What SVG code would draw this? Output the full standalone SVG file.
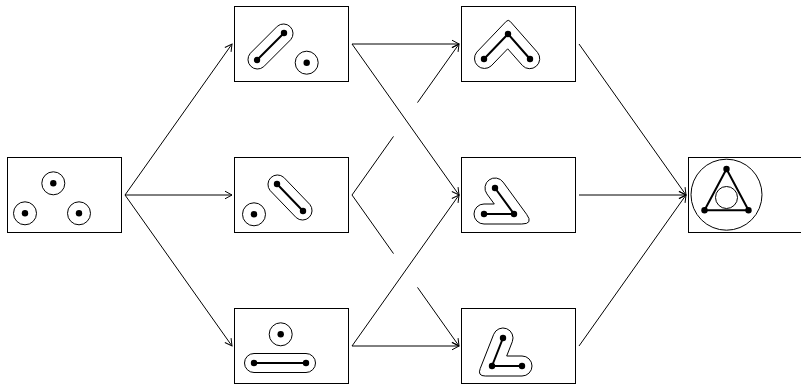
<svg xmlns="http://www.w3.org/2000/svg" width="801" height="385" viewBox="0 0 801 385">
<style>
.box{fill:#fff;stroke:#000;stroke-width:1}
.ring{fill:none;stroke:#000;stroke-width:1}
.hull{fill:none;stroke:#000;stroke-width:1;stroke-linejoin:round}
.dot{fill:#000;stroke:none}
.edge{stroke:#000;stroke-width:2;fill:none;stroke-linecap:round}
.conn{stroke:#000;stroke-width:1;fill:none}
.arr{marker-end:url(#ah)}
</style>
<defs>
<marker id="ah" markerUnits="userSpaceOnUse" markerWidth="12" markerHeight="12" viewBox="-10 -6 12 12" refX="0" refY="0" orient="auto">
<path d="M-7,-3.8 L0,0 L-7,3.8" fill="none" stroke="#000" stroke-width="1"/>
</marker>
</defs>
<rect width="801" height="385" fill="#fff"/>

<g id="connectors">
<line class="conn arr" x1="125" y1="195" x2="232" y2="44"/>
<line class="conn arr" x1="125" y1="195" x2="232" y2="195"/>
<line class="conn arr" x1="125" y1="195" x2="232" y2="346"/>
<line class="conn arr" x1="352" y1="44" x2="459" y2="44"/>
<line class="conn arr" x1="352" y1="44" x2="459" y2="195"/>
<line class="conn" x1="352" y1="195" x2="393.5" y2="136.4"/>
<line class="conn arr" x1="417.5" y1="102.6" x2="459" y2="44"/>
<line class="conn" x1="352" y1="195" x2="393.5" y2="253.6"/>
<line class="conn arr" x1="417.5" y1="287.4" x2="459" y2="346"/>
<line class="conn arr" x1="352" y1="346" x2="459" y2="195"/>
<line class="conn arr" x1="352" y1="346" x2="459" y2="346"/>
<line class="conn arr" x1="579" y1="44" x2="686" y2="195"/>
<line class="conn arr" x1="579" y1="195" x2="686" y2="195"/>
<line class="conn arr" x1="579" y1="346" x2="686" y2="195"/>
</g>

<g id="node-start">
<rect class="box" x="7.5" y="157.5" width="114" height="75"/>
<circle class="ring" cx="53.3" cy="183.3" r="11.5"/><circle class="dot" cx="53.3" cy="183.3" r="3.2"/>
<circle class="ring" cx="25" cy="213.3" r="11.5"/><circle class="dot" cx="25" cy="213.3" r="3.2"/>
<circle class="ring" cx="79" cy="213.3" r="11.5"/><circle class="dot" cx="79" cy="213.3" r="3.2"/>
</g>

<g id="node-b">
<rect class="box" x="234.5" y="6.5" width="114" height="75"/>
<path class="hull" d="M263.7,66.7 L290.7,39.7 A9.5,9.5 0 0 0 277.3,26.3 L250.3,53.3 A9.5,9.5 0 0 0 263.7,66.7 Z"/>
<line class="edge" x1="257" y1="60" x2="284" y2="33"/>
<circle class="dot" cx="257" cy="60" r="3.2"/><circle class="dot" cx="284" cy="33" r="3.2"/>
<circle class="ring" cx="306.7" cy="62.7" r="11.5"/><circle class="dot" cx="306.7" cy="62.7" r="3.2"/>
</g>

<g id="node-c">
<rect class="box" x="234.5" y="157.5" width="114" height="75"/>
<path class="hull" d="M270.2,190.6 L296.2,217.6 A9.5,9.5 0 0 0 309.8,204.4 L283.8,177.4 A9.5,9.5 0 0 0 270.2,190.6 Z"/>
<line class="edge" x1="277" y1="184" x2="303" y2="211"/>
<circle class="dot" cx="277" cy="184" r="3.2"/><circle class="dot" cx="303" cy="211" r="3.2"/>
<circle class="ring" cx="254" cy="214.3" r="11.5"/><circle class="dot" cx="254" cy="214.3" r="3.2"/>
</g>

<g id="node-d">
<rect class="box" x="234.5" y="308.5" width="114" height="75"/>
<circle class="ring" cx="280.7" cy="334.3" r="11.5"/><circle class="dot" cx="280.7" cy="334.3" r="3.2"/>
<rect class="hull" x="244.5" y="353.5" width="71" height="19" rx="9.5" ry="9.5"/>
<line class="edge" x1="254" y1="363" x2="306" y2="363"/>
<circle class="dot" cx="254" cy="363" r="3.2"/><circle class="dot" cx="306" cy="363" r="3.2"/>
</g>

<g id="node-e">
<rect class="box" x="461.5" y="6.5" width="114" height="75"/>
<path class="hull" d="M476.8,52.1 L506.2,21.4 Q508.3,19.2 510.3,21.5 L537.5,52.4 A10,10 0 0 1 522.5,65.6 L507.7,48.8 L491.2,65.9 A10,10 0 0 1 476.8,52.1 Z"/>
<polyline class="edge" points="484,59 508,34 530,59" stroke-linejoin="round"/>
<circle class="dot" cx="484" cy="59" r="3.2"/><circle class="dot" cx="508" cy="34" r="3.2"/><circle class="dot" cx="530" cy="59" r="3.2"/>
</g>

<g id="node-f">
<rect class="box" x="461.5" y="157.5" width="114" height="75"/>
<path class="hull" d="M503.1,182.1 L526.6,214.3 Q533.7,224 521.7,224 L484,224 A10,10 0 0 1 484,204 L494.3,204 L486.9,193.9 A10,10 0 0 1 503.1,182.1 Z"/>
<polyline class="edge" points="495,188 514,214 484,214" stroke-linejoin="round"/>
<circle class="dot" cx="495" cy="188" r="3.2"/><circle class="dot" cx="514" cy="214" r="3.2"/><circle class="dot" cx="484" cy="214" r="3.2"/>
</g>

<g id="node-g">
<rect class="box" x="461.5" y="308.5" width="114" height="75"/>
<path class="hull" d="M493.7,334.3 L480.2,368.6 Q477.3,376 485.3,376 L522,376 A10,10 0 0 0 522,356 L506.7,356 L512.3,341.7 A10,10 0 0 0 493.7,334.3 Z"/>
<polyline class="edge" points="503,338 492,366 522,366" stroke-linejoin="round"/>
<circle class="dot" cx="503" cy="338" r="3.2"/><circle class="dot" cx="492" cy="366" r="3.2"/><circle class="dot" cx="522" cy="366" r="3.2"/>
</g>

<g id="node-h">
<rect class="box" x="688.5" y="157.5" width="130" height="75"/>
<circle class="ring" cx="726.5" cy="194.7" r="35.5"/>
<circle class="ring" cx="726.5" cy="197.5" r="11"/>
<polygon class="edge" points="726.5,169 704.5,210.3 748.5,210.3" stroke-linejoin="round"/>
<circle class="dot" cx="726.5" cy="169" r="3.2"/><circle class="dot" cx="704.5" cy="210.3" r="3.2"/><circle class="dot" cx="748.5" cy="210.3" r="3.2"/>
</g>
</svg>
